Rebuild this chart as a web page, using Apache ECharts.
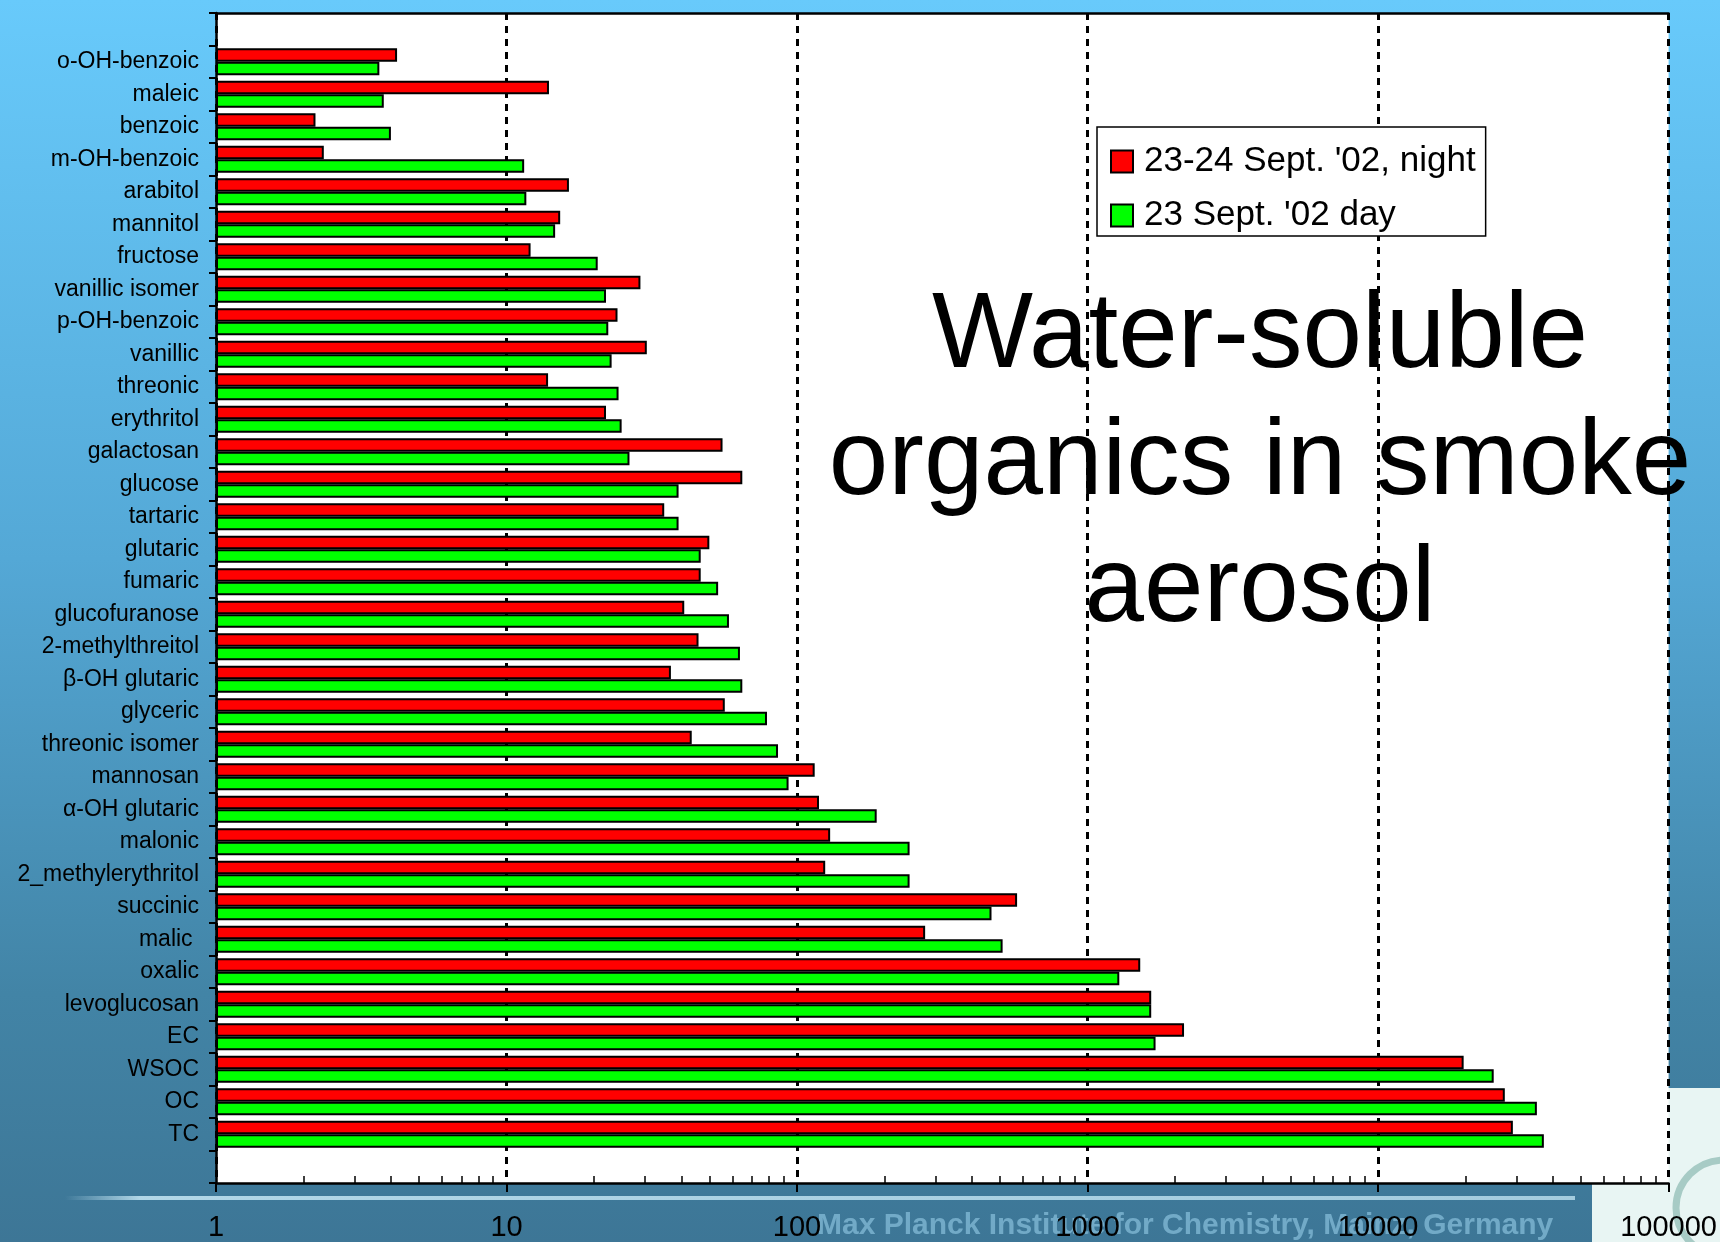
<!DOCTYPE html>
<html>
<head>
<meta charset="utf-8">
<title>Water-soluble organics in smoke aerosol</title>
<script src="https://cdn.jsdelivr.net/npm/echarts@6.0.0/dist/echarts.min.js"></script>
<style>
  html, body { margin: 0; padding: 0; }
  #chart { width: 1720px; height: 1242px; }
</style>
</head>
<body>
<div id="chart"></div>
<script>
// compounds, top to bottom
const categories = ['o-OH-benzoic', 'maleic', 'benzoic', 'm-OH-benzoic', 'arabitol', 'mannitol', 'fructose',
  'vanillic isomer', 'p-OH-benzoic', 'vanillic', 'threonic', 'erythritol', 'galactosan', 'glucose', 'tartaric',
  'glutaric', 'fumaric', 'glucofuranose', '2-methylthreitol', 'β-OH glutaric', 'glyceric', 'threonic isomer',
  'mannosan', 'α-OH glutaric', 'malonic', '2_methylerythritol', 'succinic', 'malic ', 'oxalic', 'levoglucosan',
  'EC', 'WSOC', 'OC', 'TC']

// 23-24 Sept. '02, night (red)
const nightValues = [4.2, 14.0, 2.2, 2.35, 16.4, 15.3, 12.1, 28.9, 24.1, 30.4, 13.9, 22.0, 55.4, 64.8, 34.9,
  49.9, 46.6, 40.9, 45.8, 36.8, 56.4, 43.4, 115, 119, 130, 125, 572, 276, 1518, 1656, 2148, 19700, 27300, 29100]

// 23 Sept. '02 day (green)
const dayValues = [3.65, 3.78, 4.0, 11.5, 11.7, 14.7, 20.6, 22.0, 22.4, 23.0, 24.3, 24.9, 26.5, 39.1, 39.1,
  46.6, 53.5, 58.3, 63.6, 64.8, 78.8, 86.0, 93.5, 188, 244, 244, 467, 510, 1286, 1656, 1714, 25000, 35200, 37200]

const seriesNames = ["23-24 Sept. '02, night", "23 Sept. '02 day"]

// log axis minor ticks
const minorTicks = [2, 3, 4, 5, 6, 7, 8, 9, 20, 30, 40, 50, 60, 70, 80, 90,
  200, 300, 400, 500, 600, 700, 800, 900, 2000, 3000, 4000, 5000, 6000, 7000, 8000, 9000,
  20000, 30000, 40000, 50000, 60000, 70000, 80000, 90000]

// one empty band above and below the compounds
const yData = [' '].concat(categories, ['  '])
const pad = arr => [null].concat(arr, [null])

const myChart = echarts.init(document.getElementById('chart'))

const option = {
  animation: false,
  backgroundColor: new echarts.graphic.LinearGradient(0, 0, 0, 1, [
    { offset: 0, color: '#68cafb' },
    { offset: 0.45, color: '#54a8d6' },
    { offset: 0.8, color: '#4284a6' },
    { offset: 1, color: '#3d7696' }
  ]),
  textStyle: { fontFamily: 'Liberation Sans, Arial, sans-serif' },
  grid: {
    left: 216,
    right: 50,
    top: 13,
    bottom: 59,
    show: true,
    backgroundColor: '#fff',
    borderWidth: 0
  },
  legend: {
    data: seriesNames,
    orient: 'vertical',
    left: 1097,
    top: 127,
    backgroundColor: '#fff',
    borderColor: '#000',
    borderWidth: 1.5,
    borderRadius: 0,
    padding: [17, 10, 3, 13],
    itemGap: 19,
    itemWidth: 22,
    itemHeight: 22,
    icon: 'rect',
    textStyle: { fontSize: 35, color: '#000', padding: [0, 0, 0, 6] }
  },
  xAxis: [
    {
      type: 'log',
      logBase: 10,
      min: 1,
      max: 100000,
      position: 'bottom',
      axisLine: { show: true, lineStyle: { color: '#000', width: 2.5 } },
      axisTick: { show: true, length: 9, lineStyle: { color: '#000', width: 2 } },
      axisLabel: { fontSize: 29, color: '#000', margin: 30, formatter: v => String(v) },
      splitLine: { show: true, lineStyle: { color: '#000', width: 3, type: [7, 6] } }
    },
    {
      // minor ticks, pointing into the plot
      type: 'log',
      logBase: 10,
      min: 1,
      max: 100000,
      position: 'bottom',
      axisLine: { show: false },
      axisTick: { show: true, inside: true, length: 7, customValues: minorTicks, lineStyle: { color: '#000', width: 1.5 } },
      axisLabel: { show: false },
      splitLine: { show: false }
    },
    {
      // top border
      type: 'log',
      logBase: 10,
      min: 1,
      max: 100000,
      position: 'top',
      axisLine: { show: true, lineStyle: { color: '#000', width: 2.5 } },
      axisTick: { show: false },
      axisLabel: { show: false },
      splitLine: { show: false }
    }
  ],
  yAxis: {
    type: 'category',
    inverse: true,
    data: yData,
    axisLine: { show: true, lineStyle: { color: '#000', width: 2.5 } },
    axisTick: { show: true, length: 7, interval: 0, lineStyle: { color: '#000', width: 2 } },
    axisLabel: { interval: 0, fontSize: 23, color: '#000', margin: 17 },
    splitLine: { show: false }
  },
  series: [
    {
      name: seriesNames[0],
      type: 'bar',
      xAxisIndex: 0,
      data: pad(nightValues),
      barWidth: 13.5,
      barGap: '0%',
      itemStyle: { color: '#ff0000', borderColor: '#000', borderWidth: 2 }
    },
    {
      name: seriesNames[1],
      type: 'bar',
      xAxisIndex: 0,
      data: pad(dayValues),
      barWidth: 13.5,
      barGap: '0%',
      itemStyle: { color: '#00ff00', borderColor: '#000', borderWidth: 2 }
    }
  ],
  graphic: [
    {
      // glowing line under the axis
      type: 'rect',
      z: -2,
      shape: { x: 65, y: 1196, width: 1510, height: 4 },
      style: {
        fill: new echarts.graphic.LinearGradient(0, 0, 1, 0, [
          { offset: 0, color: 'rgba(190,225,240,0)' },
          { offset: 0.05, color: 'rgba(190,225,240,0.9)' },
          { offset: 1, color: 'rgba(190,225,240,0.8)' }
        ])
      }
    },
    {
      type: 'text',
      z: -2,
      x: 817,
      y: 1226,
      style: {
        text: 'Max Planck Institute for Chemistry, Mainz, Germany',
        font: 'bold 30px Liberation Sans',
        fill: 'rgba(150,205,232,0.6)',
        verticalAlign: 'middle'
      }
    },
    {
      // logo corner
      type: 'rect',
      z: -3,
      shape: { x: 1592, y: 1088, width: 128, height: 154 },
      style: { fill: '#e8f5f3' }
    },
    {
      type: 'circle',
      z: -3,
      shape: { cx: 1724, cy: 1208, r: 48 },
      style: { fill: 'none', stroke: '#a7cbc5', lineWidth: 7 }
    },
    {
      type: 'text',
      z: 10,
      x: 1260,
      y: 274,
      style: {
        text: 'Water-soluble\norganics in smoke\naerosol',
        font: '107px Liberation Sans',
        lineHeight: 127,
        fill: '#000',
        align: 'center',
        verticalAlign: 'top'
      }
    }
  ]
}

myChart.setOption(option)
</script>
</body>
</html>
